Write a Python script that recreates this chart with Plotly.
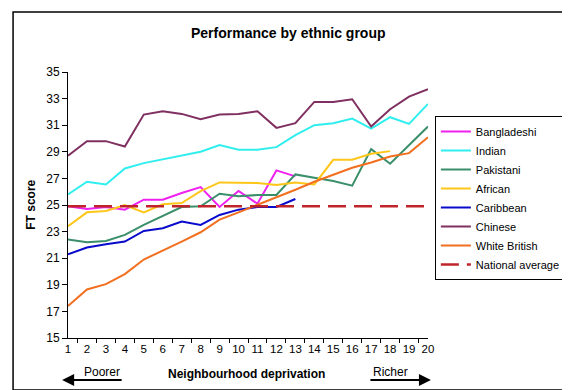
import plotly.graph_objects as go

# ---- data ----
deprivation = [str(i) for i in range(1, 21)]
bangladeshi = [24.9, 24.7, 24.85, 24.65, 25.4, 25.4, 25.9, 26.35, 24.85, 26.05, 25.1, 27.6, 27.15]
indian = [25.8, 26.75, 26.55, 27.75, 28.15, 28.45, 28.75, 29.0, 29.5, 29.15, 29.15, 29.35, 30.25,
          31.0, 31.15, 31.5, 30.75, 31.6, 31.1, 32.6]
pakistani = [22.4, 22.2, 22.3, 22.75, 23.5, 24.15, 24.85, 24.9, 25.85, 25.65, 25.75, 25.75, 27.3,
             27.05, 26.8, 26.45, 29.2, 28.1, 29.5, 30.9]
african = [23.4, 24.45, 24.55, 25.0, 24.45, 25.05, 25.15, 26.05, 26.7, 26.65, 26.65, 26.5, 26.7,
           26.55, 28.4, 28.4, 28.85, 29.05]
caribbean = [21.3, 21.8, 22.05, 22.25, 23.05, 23.25, 23.75, 23.5, 24.25, 24.65, 24.85, 24.85, 25.45]
chinese = [28.7, 29.8, 29.8, 29.4, 31.8, 32.05, 31.85, 31.45, 31.8, 31.85, 32.05, 30.8, 31.15,
           32.75, 32.75, 32.95, 30.9, 32.2, 33.15, 33.7]
white_british = [17.4, 18.65, 19.05, 19.8, 20.9, 21.55, 22.25, 22.95, 23.9, 24.45, 25.0, 25.55, 26.15,
                 26.75, 27.3, 27.8, 28.2, 28.65, 28.9, 30.1]
national_average = [24.9] * 20

series = [
    ("Bangladeshi", bangladeshi, "#F020F0"),
    ("Indian", indian, "#30EEEE"),
    ("Pakistani", pakistani, "#3A8F6A"),
    ("African", african, "#FFC61A"),
    ("Caribbean", caribbean, "#0A0ACC"),
    ("Chinese", chinese, "#7F3060"),
    ("White British", white_british, "#F26F1F"),
]

W, H = 570, 390
ML, MR, MT, MB = 60, 143, 64, 60
PW, PH = W - ML - MR, H - MT - MB


def px(x):
    return (x - ML) / PW


def py(y):
    return (H - MB - y) / PH


FONT = "Arial, Liberation Sans, sans-serif"

fig = go.Figure()
for name, vals, col in series:
    fig.add_trace(go.Scatter(x=deprivation[:len(vals)], y=vals, name=name, mode="lines",
                             line=dict(color=col, width=2)))
fig.add_trace(go.Scatter(x=deprivation, y=national_average, name="National average", mode="lines",
                         line=dict(color="#C0242B", width=2.5, dash="18px,8px")))

fig.update_layout(
    width=W, height=H,
    margin=dict(l=ML, r=MR, t=MT, b=MB),
    paper_bgcolor="white", plot_bgcolor="white",
    font=dict(family=FONT, size=12, color="black"),
    showlegend=True,
    legend=dict(x=px(434), y=py(108), xanchor="left", yanchor="top",
                bgcolor="white", bordercolor="black", borderwidth=1,
                font=dict(size=11), itemwidth=30, tracegroupgap=0),
    xaxis=dict(type="category", tickson="boundaries", ticks="outside", ticklen=4,
               tickcolor="black", showline=True, linecolor="black", linewidth=1,
               showgrid=False, zeroline=False, tickangle=0, tickfont=dict(size=11.5)),
    yaxis=dict(range=[15, 35], dtick=2, tick0=15, ticks="outside", ticklen=5,
               tickcolor="black", showline=True, linecolor="black", linewidth=1,
               showgrid=False, zeroline=False, tickfont=dict(size=12)),
)

fig.add_shape(type="rect", xref="paper", yref="paper",
              x0=px(4), x1=px(565), y0=py(382), y1=py(4),
              line=dict(color="black", width=1.5), layer="below")

ann = [
    dict(text="<b>Performance by ethnic group</b>", x=px(284.5), y=py(25), font=dict(size=14)),
    dict(text="<b>FT score</b>", x=px(22), y=py(197), textangle=-90, font=dict(size=12)),
    dict(text="<b>Neighbourhood deprivation</b>", x=px(242), y=py(366), font=dict(size=12)),
    dict(text="Poorer", x=px(95), y=py(364), font=dict(size=12)),
    dict(text="Richer", x=px(389), y=py(364), font=dict(size=12)),
]
for a in ann:
    fig.add_annotation(xref="paper", yref="paper", showarrow=False,
                       xanchor="center", yanchor="middle", **a)

fig.add_annotation(xref="paper", yref="paper", x=px(54), y=py(372), text="",
                   showarrow=True, ax=61, ay=0, arrowhead=2, arrowsize=1.2,
                   arrowwidth=2, arrowcolor="black")
fig.add_annotation(xref="paper", yref="paper", x=px(430), y=py(372), text="",
                   showarrow=True, ax=-62, ay=0, arrowhead=2, arrowsize=1.2,
                   arrowwidth=2, arrowcolor="black")

fig.write_html("out.html")
